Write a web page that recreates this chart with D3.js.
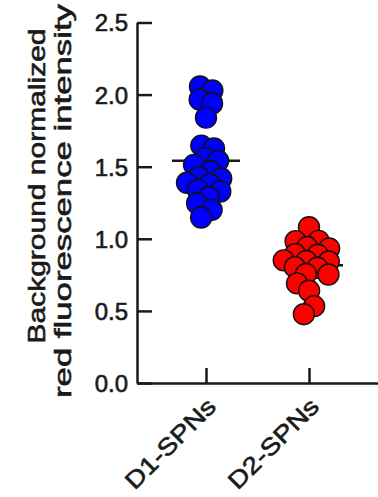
<!DOCTYPE html>
<html>
<head>
<meta charset="utf-8">
<script src="https://cdn.jsdelivr.net/npm/d3@7"></script>
<style>
  body { margin: 0; background: #fff; }
  svg { display: block; font-family: "Liberation Sans", Arial, sans-serif; }
</style>
</head>
<body>
<svg id="chart" width="378" height="497"></svg>
<script>
// Groupes et valeurs
const groups = ["D1-SPNs", "D2-SPNs"];
const d1Values = [2.05, 2.03, 1.97, 1.94, 1.84, 1.64, 1.62, 1.57, 1.53, 1.50, 1.45,
                  1.43, 1.41, 1.40, 1.38, 1.37, 1.33, 1.29, 1.25, 1.20, 1.15];
const d2Values = [1.08, 0.98, 0.96, 0.95, 0.90, 0.88, 0.87, 0.86, 0.85, 0.85, 0.82,
                  0.80, 0.78, 0.77, 0.70, 0.64, 0.53, 0.48];
const groupColors = ["#0000ff", "#ff0000"];
const yTicks = [0, 0.5, 1.0, 1.5, 2.0, 2.5];
const titleLines = ["Background normalized", "red fluorescence intensity"];

var svg = d3.select("#chart");
var width = +svg.attr("width");

var x = d3.scalePoint().domain(groups).range([137, width]).padding(0.67);
var y = d3.scaleLinear().domain([0, 2.5]).range([383, 22.5]);

var r = 10.5;
var ink = "#1a1a1a";

// petit contour pour épaissir le texte (rendu "semi-gras")
function heavy(sel) {
  sel.attr("fill", ink).attr("stroke", ink).attr("stroke-width", 0.6);
}

// Axe Y
var yAxis = svg.append("g")
    .attr("transform", "translate(137,0)")
    .call(d3.axisLeft(y).tickValues(yTicks).tickFormat(d3.format(".1f"))
        .tickSize(-15).tickSizeOuter(0).tickPadding(9));
yAxis.select(".domain").attr("stroke", ink).attr("stroke-width", 2.5);
yAxis.selectAll(".tick line").attr("stroke", ink).attr("stroke-width", 2.5);
yAxis.selectAll(".tick text").attr("font-size", 24).attr("dy", "0.35em").call(heavy);

// Axe X
var xAxis = svg.append("g")
    .attr("transform", "translate(0,383)")
    .call(d3.axisBottom(x).tickSize(-15).tickSizeOuter(0));
xAxis.select(".domain").attr("stroke", ink).attr("stroke-width", 2.5);
xAxis.selectAll(".tick line").attr("stroke", ink).attr("stroke-width", 2.5);
xAxis.selectAll(".tick text")
    .attr("font-size", 24)
    .attr("text-anchor", "end")
    .attr("y", 0).attr("dy", 0)
    .attr("textLength", 117).attr("lengthAdjust", "spacingAndGlyphs")
    .attr("transform", "translate(11,25) rotate(-45)")
    .call(heavy);

// Titre de l'axe Y (deux lignes)
var titleX = [45, 71];
var titleMid = [186, 201];
var titleLen = [315, 394];
svg.append("g").selectAll("text")
    .data(titleLines)
    .enter()
    .append("text")
    .attr("transform", (d, i) => `translate(${titleX[i]},${titleMid[i]}) rotate(-90)`)
    .attr("text-anchor", "middle")
    .attr("font-size", 24)
    .attr("textLength", (d, i) => titleLen[i])
    .attr("lengthAdjust", "spacingAndGlyphs")
    .text(d => d)
    .call(heavy);

// Points : disposition en essaim (force) autour de chaque groupe
[d1Values, d2Values].forEach(function (vals, gi) {
  var cx = x(groups[gi]);
  var nodes = vals.map(v => ({ value: v, x: cx, y: y(v) }));
  var sim = d3.forceSimulation(nodes)
      .force("x", d3.forceX(cx).strength(0.1))
      .force("y", d3.forceY(d => y(d.value)).strength(1))
      .force("collide", d3.forceCollide(6.5))
      .stop();
  for (var i = 0; i < 300; i++) sim.tick();

  // Ligne de moyenne sous les points
  var m = d3.mean(vals);
  svg.append("line")
      .attr("x1", cx - 34).attr("x2", cx + 34)
      .attr("y1", y(m)).attr("y2", y(m))
      .attr("stroke", ink).attr("stroke-width", 2.5);

  svg.append("g").selectAll("circle")
      .data(nodes)
      .enter()
      .append("circle")
      .attr("cx", d => d.x)
      .attr("cy", d => d.y)
      .attr("r", r)
      .attr("fill", groupColors[gi])
      .attr("stroke", "#111")
      .attr("stroke-width", 1.4);
});
</script>
</body>
</html>
